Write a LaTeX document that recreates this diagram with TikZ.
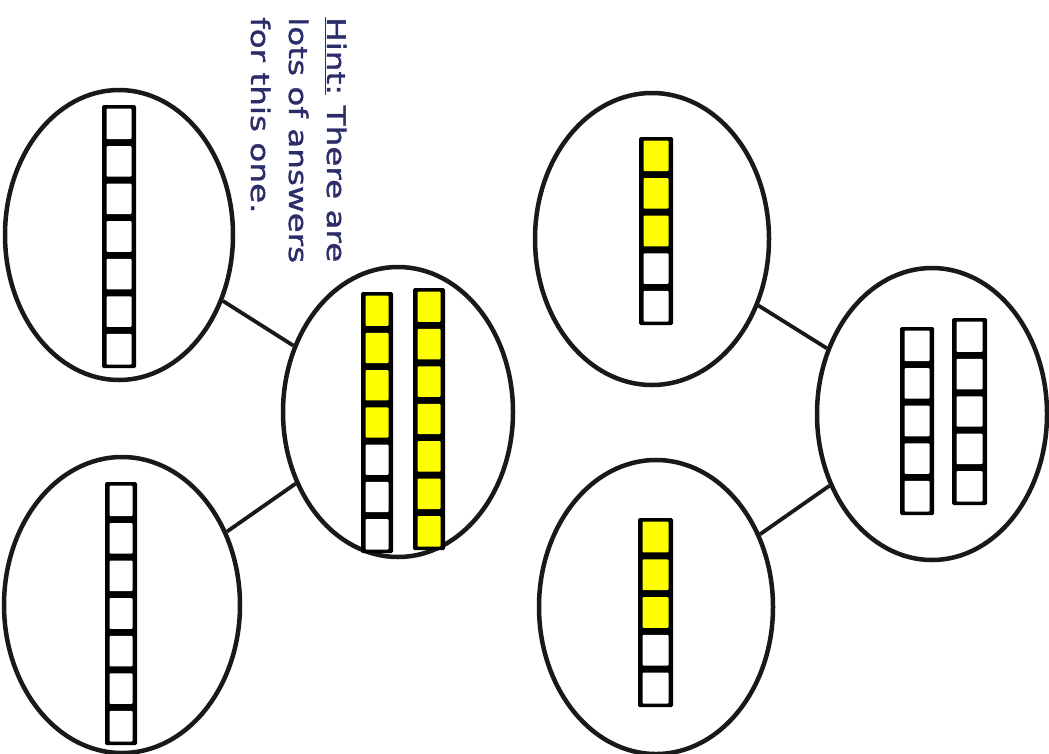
\documentclass[tikz,border=0pt]{standalone}
\usepackage{fontspec}
\usetikzlibrary{shapes.geometric}
\newfontfamily\hintfont[FakeStretch=1.28,FakeBold=1.3]{DejaVu Sans}
\definecolor{cellyellow}{HTML}{FFFF00}
\definecolor{hintblue}{HTML}{2B2D6A}
\newcommand{\cellbar}[6]{%
  \fill[black, rounded corners=1.5] (#1,#3) rectangle (#2,#4);
  \pgfmathsetmacro{\cbpitch}{(#4-#3)/#5}
  \foreach \i in {1,...,#5}{
    \pgfmathsetmacro{\cbya}{#3+(\i-1)*\cbpitch+3.5}
    \pgfmathsetmacro{\cbyb}{#3+\i*\cbpitch-3.5}
    \pgfmathtruncatemacro{\cbisy}{\i<=#6 ? 1 : 0}
    \ifnum\cbisy=1 \def\cbcol{cellyellow}\else\def\cbcol{white}\fi
    \fill[\cbcol, rounded corners=1] (#1+4.5,\cbya) rectangle (#2-4.5,\cbyb);
  }%
}
\tikzset{
  bubble/.style={ellipse, draw=black!90, line width=4.5pt, inner sep=0pt, fill=white},
  link/.style={draw=black!90, line width=3.8pt},
  hint/.style={rotate=-90, anchor=base west, inner sep=0pt, text=hintblue, font=\hintfont\fontsize{25.5}{30}\selectfont}
}
\begin{document}
\begin{tikzpicture}[x=1pt,y=-1pt]
\fill[white] (0,0) rectangle (1049,753);
\useasboundingbox (0,0) rectangle (1049,753);
\begin{scope}
\clip (0,0) rectangle (1049,753);
% ellipses
\node[bubble, minimum width=228pt, minimum height=290pt] (tl) at (119,235) {};
\node[bubble, minimum width=236pt, minimum height=296pt] (bl) at (122,605) {};
\node[bubble, minimum width=230pt, minimum height=290pt] (c) at (398,412) {};
\node[bubble, minimum width=234pt, minimum height=292pt] (tr) at (652,239) {};
\node[bubble, minimum width=234pt, minimum height=294pt] (br) at (656,607) {};
\node[bubble, minimum width=230pt, minimum height=292pt] (r) at (932,414) {};
% connectors
\draw[link] (tl) -- (c);
\draw[link] (bl) -- (c);
\draw[link] (tr) -- (r);
\draw[link] (br) -- (r);
% bars
\cellbar{102}{136}{105}{368}{7}{0}
\cellbar{105}{137}{482}{745}{7}{0}
\cellbar{361}{393}{292}{553}{7}{4}
\cellbar{413}{445}{288}{550}{7}{7}
\cellbar{639}{673}{137}{325}{5}{3}
\cellbar{638}{673}{518}{707}{5}{3}
\cellbar{900}{934}{327}{515}{5}{0}
\cellbar{952}{987}{318}{505}{5}{0}
% hint text
\node[hint] (hint1) at (327,17) {\underline{Hint:} There are};
\node[hint] (hint2) at (289,17) {lots of answers};
\node[hint] (hint3) at (251,17) {for this one.};
\end{scope}
\end{tikzpicture}
\end{document}
